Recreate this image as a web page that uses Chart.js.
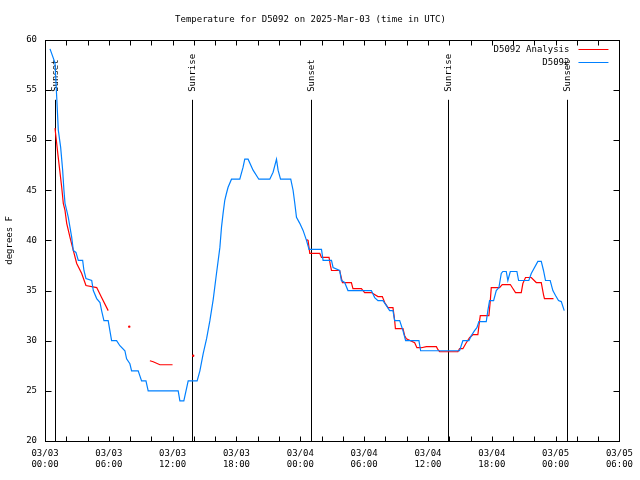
<!DOCTYPE html>
<html>
<head>
<meta charset="utf-8">
<title>Temperature for D5092</title>
<script src="https://cdn.jsdelivr.net/npm/chart.js@4.4.1/dist/chart.umd.min.js"></script>
<style>
  html, body { margin: 0; padding: 0; background: #fff; }
  #temp-canvas { display: block; }
</style>
</head>
<body>
<canvas id="temp-canvas" width="640" height="480"></canvas>
<script>
// hours since 03/03 00:00 UTC, degrees F
var stationHours = [0.47, 0.94, 1.10, 1.25, 1.47, 1.66, 1.78, 1.88, 2.04, 2.19, 2.35, 2.51, 2.66, 2.91, 3.13, 3.54, 3.66, 3.85, 4.39, 4.54,
  4.86, 5.17, 5.32, 5.54, 5.94, 6.10, 6.26, 6.73, 7.04, 7.51, 7.67, 7.98, 8.14, 8.76, 9.08, 9.49, 9.70, 12.52, 12.68, 13.05,
  13.46, 14.30, 14.56, 14.87, 15.19, 15.50, 15.81, 16.12, 16.44, 16.59, 16.74, 16.90, 17.06, 17.21, 17.53, 18.31, 18.62, 18.78, 19.09, 19.56,
  20.10, 21.13, 21.44, 21.76, 21.91, 22.14, 23.10, 23.32, 23.48, 23.64, 23.95, 24.26, 24.58, 24.82, 25.99, 26.14, 26.93, 27.08, 27.70, 27.86,
  28.17, 28.48, 30.68, 30.99, 31.30, 31.77, 32.09, 32.40, 32.71, 32.87, 33.34, 33.65, 33.90, 35.15, 35.31, 37.10, 38.97, 39.28, 39.85, 40.07,
  40.38, 40.60, 40.79, 41.48, 41.63, 41.79, 42.17, 42.42, 42.67, 42.89, 43.04, 43.36, 43.51, 43.74, 44.36, 44.52, 45.48, 45.71, 46.33, 46.65,
  46.86, 47.05, 47.49, 47.74, 47.99, 48.27, 48.53, 48.81];
var stationTemps = [59.1, 57.7, 54.3, 51.0, 49.3, 47.0, 45.0, 43.7, 43.0, 42.3, 41.3, 40.3, 39.0, 38.8, 38.0, 38.0, 37.0, 36.2, 36.0, 35.0,
  34.2, 33.8, 33.0, 32.0, 32.0, 31.0, 30.0, 30.0, 29.5, 29.0, 28.2, 27.7, 27.0, 27.0, 26.0, 26.0, 25.0, 25.0, 24.0, 24.0,
  26.0, 26.0, 27.0, 28.7, 30.2, 32.0, 34.1, 36.7, 39.3, 41.3, 42.7, 44.0, 44.7, 45.3, 46.1, 46.1, 47.3, 48.1, 48.1, 47.0,
  46.1, 46.1, 46.8, 48.1, 47.0, 46.1, 46.1, 45.0, 43.7, 42.3, 41.7, 41.0, 40.0, 39.1, 39.1, 38.0, 38.0, 37.3, 37.0, 36.0,
  35.8, 35.0, 35.0, 34.3, 34.0, 34.0, 33.5, 33.0, 33.0, 32.0, 32.0, 31.0, 30.0, 30.0, 29.0, 29.0, 29.0, 30.0, 30.0, 30.5,
  31.0, 31.3, 31.9, 31.9, 33.0, 34.0, 34.0, 35.0, 35.3, 36.7, 36.9, 36.9, 36.0, 36.9, 36.9, 36.0, 36.0, 36.7, 37.9, 37.9,
  37.0, 36.0, 36.0, 35.0, 34.5, 34.0, 33.9, 33.0];

// null temps break the analysis line
var analysisHours = [0.94, 1.22, 1.57, 1.72, 1.88, 2.04, 2.35, 2.66, 2.98, 3.45, 3.85, 4.86, 5.32, 5.94, 6.5,
  7.92, 8.5,
  9.86, 10.17, 10.80, 11.99, 12.5,
  13.93, 14.5,
  24.58, 24.73, 24.89, 25.83, 25.99, 26.70, 26.83, 26.93, 27.70, 27.96, 28.80, 28.95, 29.74, 30.05, 30.68, 31.30, 31.71, 31.93, 32.24, 32.71,
  32.87, 32.94, 33.65, 33.81, 33.97, 34.75, 34.96, 35.38, 35.85, 36.79, 36.94, 37.10, 38.81, 38.97, 39.28, 39.60, 39.91, 40.22, 40.69, 40.85,
  40.92, 41.73, 41.86, 41.95, 42.73, 42.98, 43.74, 43.98, 44.23, 44.77, 44.92, 45.17, 45.71, 46.18, 46.65, 46.86, 46.95, 47.80];
var analysisTemps = [51.2, 48.5, 45.3, 43.7, 43.0, 41.7, 40.3, 39.0, 37.7, 36.7, 35.5, 35.3, 34.3, 33.0, null,
  31.4, null,
  28.0, 27.9, 27.6, 27.6, null,
  28.5, null,
  40.1, 40.0, 38.7, 38.7, 38.3, 38.3, 37.5, 37.0, 37.0, 35.8, 35.8, 35.2, 35.2, 34.8, 34.8, 34.4, 34.4, 33.8, 33.3, 33.3,
  32.0, 31.2, 31.2, 30.5, 30.2, 29.8, 29.3, 29.3, 29.4, 29.4, 29.1, 28.9, 28.9, 29.2, 29.2, 29.8, 30.3, 30.6, 30.6, 32.0,
  32.5, 32.5, 34.0, 35.3, 35.3, 35.6, 35.6, 35.2, 34.8, 34.8, 35.7, 36.3, 36.3, 35.8, 35.8, 34.6, 34.2, 34.2];

var sunHours = [0.94, 13.83, 25.01, 37.88, 49.05];
var sunLabels = ["Sunset", "Sunrise", "Sunset", "Sunrise", "Sunset"];

// one entry per 6-hour tick, 03/03 00:00 .. 03/05 06:00
var dayLabels = ["03/03", "03/03", "03/03", "03/03", "03/04", "03/04", "03/04", "03/04", "03/05", "03/05"];
var timeLabels = ["00:00", "06:00", "12:00", "18:00", "00:00", "06:00", "12:00", "18:00", "00:00", "06:00"];

var FONT_FAMILY = '"DejaVu Sans Mono", monospace';

function toPoints(hours, temps) {
  var pts = [];
  for (var i = 0; i < hours.length; i++) {
    pts.push({ x: hours[i], y: temps[i] });
  }
  return pts;
}

// lone analysis values get a dot, the rest is a plain line
function loneDot(ctx) {
  var data = ctx.dataset.data;
  var i = ctx.dataIndex;
  if (data[i] == null || data[i].y == null) return 0;
  var prev = i > 0 ? data[i - 1].y : null;
  var next = i < data.length - 1 ? data[i + 1].y : null;
  return (prev == null && next == null) ? 1.2 : 0;
}

var gnuplotLook = {
  id: "gnuplotLook",

  beforeDatasetsDraw: function(chart) {
    var ctx = chart.ctx;
    var area = chart.chartArea;
    var xs = chart.scales.x;
    ctx.save();
    ctx.font = "9px " + FONT_FAMILY;
    ctx.fillStyle = "#000";
    ctx.strokeStyle = "#000";
    ctx.lineWidth = 1;
    for (var i = 0; i < sunHours.length; i++) {
      var px = Math.round(xs.getPixelForValue(sunHours[i])) + 0.5;
      ctx.beginPath();
      ctx.moveTo(px, area.top + 60);
      ctx.lineTo(px, area.bottom);
      ctx.stroke();

      ctx.save();
      ctx.translate(px, area.top + 52);
      ctx.rotate(-Math.PI / 2);
      ctx.textAlign = "left";
      ctx.textBaseline = "middle";
      ctx.fillText(sunLabels[i], 0, 0);
      ctx.restore();
    }
    ctx.restore();
  },

  afterDraw: function(chart) {
    var ctx = chart.ctx;
    var area = chart.chartArea;
    var xs = chart.scales.x;
    var ys = chart.scales.y;
    ctx.save();
    ctx.strokeStyle = "#000";
    ctx.lineWidth = 1;

    var left = Math.round(area.left) + 0.5;
    var right = Math.round(area.right) + 0.5;
    var top = Math.round(area.top) + 0.5;
    var bottom = Math.round(area.bottom) + 0.5;
    ctx.strokeRect(left, top, right - left, bottom - top);

    // inward tics, mirrored on all four sides
    ctx.beginPath();
    xs.ticks.forEach(function(t) {
      var px = Math.round(xs.getPixelForValue(t.value)) + 0.5;
      ctx.moveTo(px, bottom);
      ctx.lineTo(px, bottom - 5);
      ctx.moveTo(px, top);
      ctx.lineTo(px, top + 5);
    });
    ys.ticks.forEach(function(t) {
      var py = Math.round(ys.getPixelForValue(t.value)) + 0.5;
      ctx.moveTo(left, py);
      ctx.lineTo(left + 6, py);
      ctx.moveTo(right, py);
      ctx.lineTo(right - 6, py);
    });
    ctx.stroke();

    // key in the top right corner
    ctx.font = "9px " + FONT_FAMILY;
    ctx.textAlign = "right";
    ctx.textBaseline = "middle";
    ctx.fillStyle = "#000";
    chart.data.datasets.forEach(function(ds, i) {
      var rowY = Math.round(area.top + 9 + i * 13) + 0.5;
      ctx.fillText(ds.label, area.right - 50, rowY);
      ctx.strokeStyle = ds.borderColor;
      ctx.beginPath();
      ctx.moveTo(area.right - 41, rowY);
      ctx.lineTo(area.right - 11, rowY);
      ctx.stroke();
    });
    ctx.restore();
  }
};

var tempCanvas = document.getElementById("temp-canvas");
var tempChart = new Chart(tempCanvas, {
  type: "line",
  data: {
    datasets: [
      {
        label: "D5092 Analysis",
        data: toPoints(analysisHours, analysisTemps),
        borderColor: "#ff0000",
        backgroundColor: "#ff0000",
        borderWidth: 1.2,
        pointRadius: loneDot,
        pointBorderWidth: 0,
        pointHoverRadius: 0,
        tension: 0,
        spanGaps: false,
        order: 2
      },
      {
        label: "D5092",
        data: toPoints(stationHours, stationTemps),
        borderColor: "#0080ff",
        backgroundColor: "#0080ff",
        borderWidth: 1.2,
        pointRadius: 0,
        pointHoverRadius: 0,
        tension: 0,
        order: 1
      }
    ]
  },
  options: {
    responsive: false,
    animation: false,
    devicePixelRatio: 1,
    layout: { padding: { left: 0, right: 19, top: 0, bottom: 0 } },
    plugins: {
      legend: { display: false },
      tooltip: { enabled: false },
      title: {
        display: true,
        text: "Temperature for D5092 on 2025-Mar-03 (time in UTC)",
        color: "#000",
        font: { family: FONT_FAMILY, size: 9, weight: "normal" },
        padding: { top: 14, bottom: 15 }
      }
    },
    scales: {
      x: {
        type: "linear",
        min: 0,
        max: 54,
        grid: { display: false, drawTicks: false },
        border: { display: false },
        ticks: {
          stepSize: 2,
          autoSkip: false,
          maxRotation: 0,
          padding: 7,
          color: "#000",
          font: { family: FONT_FAMILY, size: 9 },
          callback: function(value) {
            if (value % 6 !== 0) return "";
            var k = value / 6;
            return [dayLabels[k], timeLabels[k]];
          }
        },
        afterFit: function(scale) {
          scale.height = 39;
        }
      },
      y: {
        min: 20,
        max: 60,
        grid: { display: false, drawTicks: false },
        border: { display: false },
        ticks: {
          stepSize: 5,
          padding: 8,
          color: "#000",
          font: { family: FONT_FAMILY, size: 9 }
        },
        title: {
          display: true,
          text: "degrees F",
          color: "#000",
          font: { family: FONT_FAMILY, size: 9 },
          padding: { top: 4, bottom: 0 }
        },
        afterFit: function(scale) {
          scale.width = 45;
        }
      }
    }
  },
  plugins: [gnuplotLook]
});
</script>
</body>
</html>
